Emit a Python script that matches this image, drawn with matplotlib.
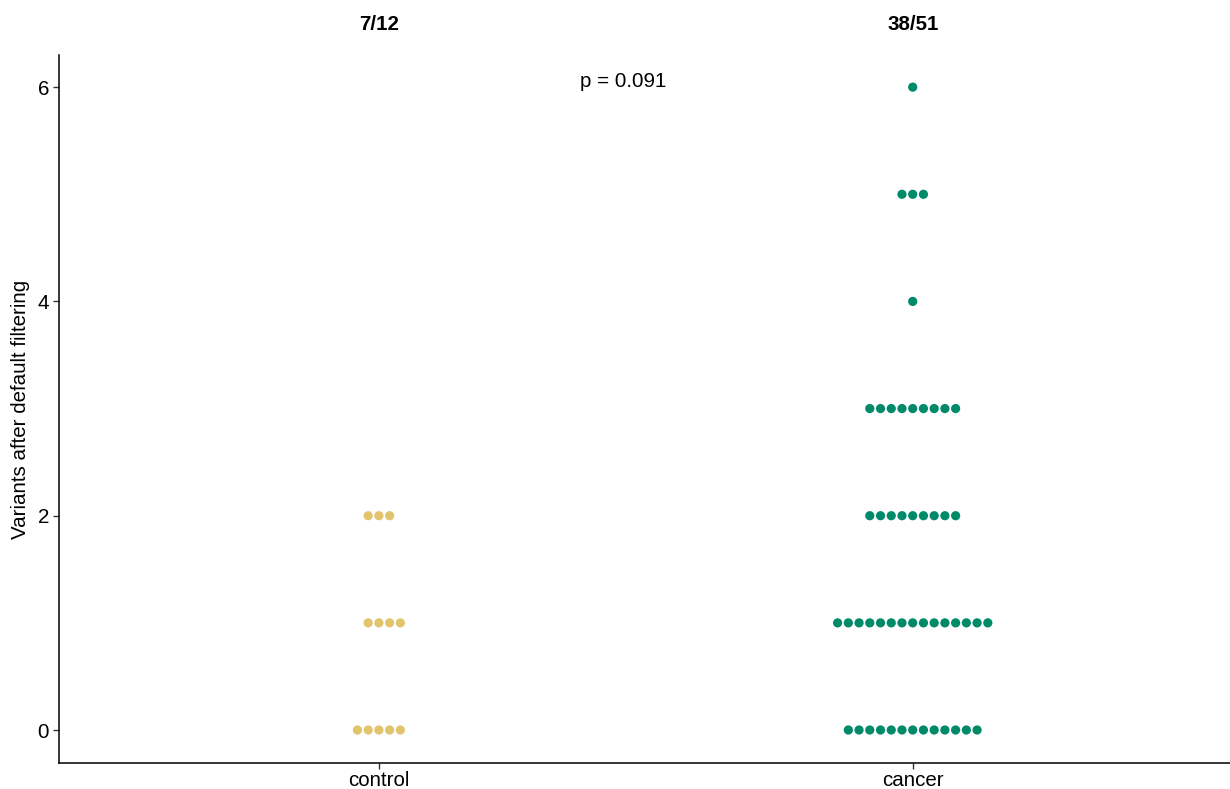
import matplotlib
matplotlib.use("Agg")
import matplotlib.pyplot as plt
import numpy as np
from collections import Counter

plt.rcParams['font.family'] = ['Liberation Sans', 'DejaVu Sans']

groups = ["control", "cancer"]
control_variants = [0] * 5 + [1] * 4 + [2] * 3
cancer_variants = [0] * 13 + [1] * 15 + [2] * 9 + [3] * 9 + [4] * 1 + [5] * 3 + [6] * 1
group_values = [control_variants, cancer_variants]
group_colors = ["#E2C46D", "#008A6A"]
y_ticks = [0, 2, 4, 6]
p_label = "p = 0.091"

FS = 14.8

fig = plt.figure(figsize=(12.3, 7.89), dpi=100)
W, H = 1230, 789
left_px, right_px, top_px, bottom_px = 58.6, 1233, 55, 763
ax = fig.add_axes([left_px / W, 1 - bottom_px / H,
                   (right_px - left_px) / W, (bottom_px - top_px) / H])

dot_step = 0.0201  # horizontal spacing between stacked dots, in x units

for i, (vals, col) in enumerate(zip(group_values, group_colors)):
    xc = i + 1
    counts = Counter(vals)
    xs, ys = [], []
    for v, n in sorted(counts.items()):
        # centre-whole stacking: odd counts centred, even counts shifted half a dot
        offs = (np.arange(n) - (n - 1) / 2.0)
        if n % 2 == 0:
            offs = offs + 0.5
        xs.extend(xc + offs * dot_step)
        ys.extend([v] * n)
    ax.scatter(xs, ys, s=44, color=col, edgecolors='none', zorder=3)
    nonzero = sum(1 for v in vals if v > 0)
    ax.text(xc, 1.0 + 31 / (bottom_px - top_px), f"{nonzero}/{len(vals)}",
            transform=ax.get_xaxis_transform(), ha='center', va='center',
            fontsize=FS, fontweight='bold')

ax.text(1.457, 6.05, p_label, ha='center', va='center', fontsize=FS)

ax.set_xlim(0.4, 2.6)
ax.set_ylim(-0.308, 6.30)
ax.set_xticks([1, 2])
ax.set_xticklabels(groups)
ax.set_yticks(y_ticks)
ax.set_yticklabels([str(t) for t in y_ticks])
ax.set_ylabel("Variants after default filtering", fontsize=FS, labelpad=5)
ax.tick_params(axis='both', labelsize=FS, length=4, width=1, color='#333333',
               direction='out', pad=3)
ax.tick_params(axis='x', pad=1.5)
for s in ['top', 'right']:
    ax.spines[s].set_visible(False)
for s in ['left', 'bottom']:
    ax.spines[s].set_linewidth(1.1)
    ax.spines[s].set_color('black')

fig.savefig("out.png", dpi=100)
